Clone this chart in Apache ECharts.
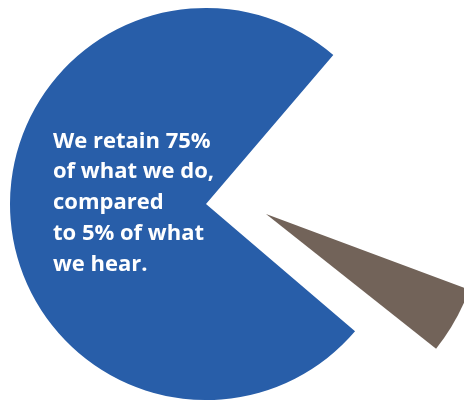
<!DOCTYPE html>
<html>
<head>
<meta charset="utf-8">
<script src="https://cdn.jsdelivr.net/npm/echarts@6/dist/echarts.min.js"></script>
<style>
  html, body { margin: 0; padding: 0; background: #ffffff; }
  #chart { width: 464px; height: 400px; }
</style>
</head>
<body>
<div id="chart"></div>
<script>
// slices of the pie
const categories = ['What we do', 'What we hear', 'Rest'];
const values = [75, 5, 20];
const colors = ['#285EA9', '#726359', 'rgba(0,0,0,0)'];

// text written on the blue slice
const noteLines = ['We retain 75%', 'of what we do,', 'compared', 'to 5% of what', 'we hear.'];

const chart = echarts.init(document.getElementById('chart'));

// only one slice is visible in each series, the rest is see-through
function sliceData(visibleIndex) {
  return categories.map((name, i) => ({
    name: name,
    value: values[i],
    itemStyle: { color: i === visibleIndex ? colors[i] : 'rgba(0,0,0,0)' }
  }));
}

const baseSeries = {
  type: 'pie',
  silent: true,
  clockwise: true,
  avoidLabelOverlap: false,
  label: { show: false },
  labelLine: { show: false },
  emphasis: { disabled: true }
};

chart.setOption({
  animation: false,
  backgroundColor: '#ffffff',
  series: [
    // big blue slice
    Object.assign({}, baseSeries, {
      center: [206, 204],
      radius: 196,
      startAngle: -40.5,
      data: sliceData(0)
    }),
    // brown slice, pulled out to the lower right
    Object.assign({}, baseSeries, {
      center: [266, 214],
      radius: 217,
      startAngle: 249.6,
      data: sliceData(1)
    })
  ],
  graphic: [{
    type: 'text',
    left: 53,
    top: 126,
    z: 100,
    silent: true,
    style: {
      text: noteLines.join('\n'),
      fill: '#ffffff',
      font: 'bold 22px "Open Sans", sans-serif',
      lineHeight: 30.8,
      align: 'left'
    }
  }]
});
</script>
</body>
</html>
